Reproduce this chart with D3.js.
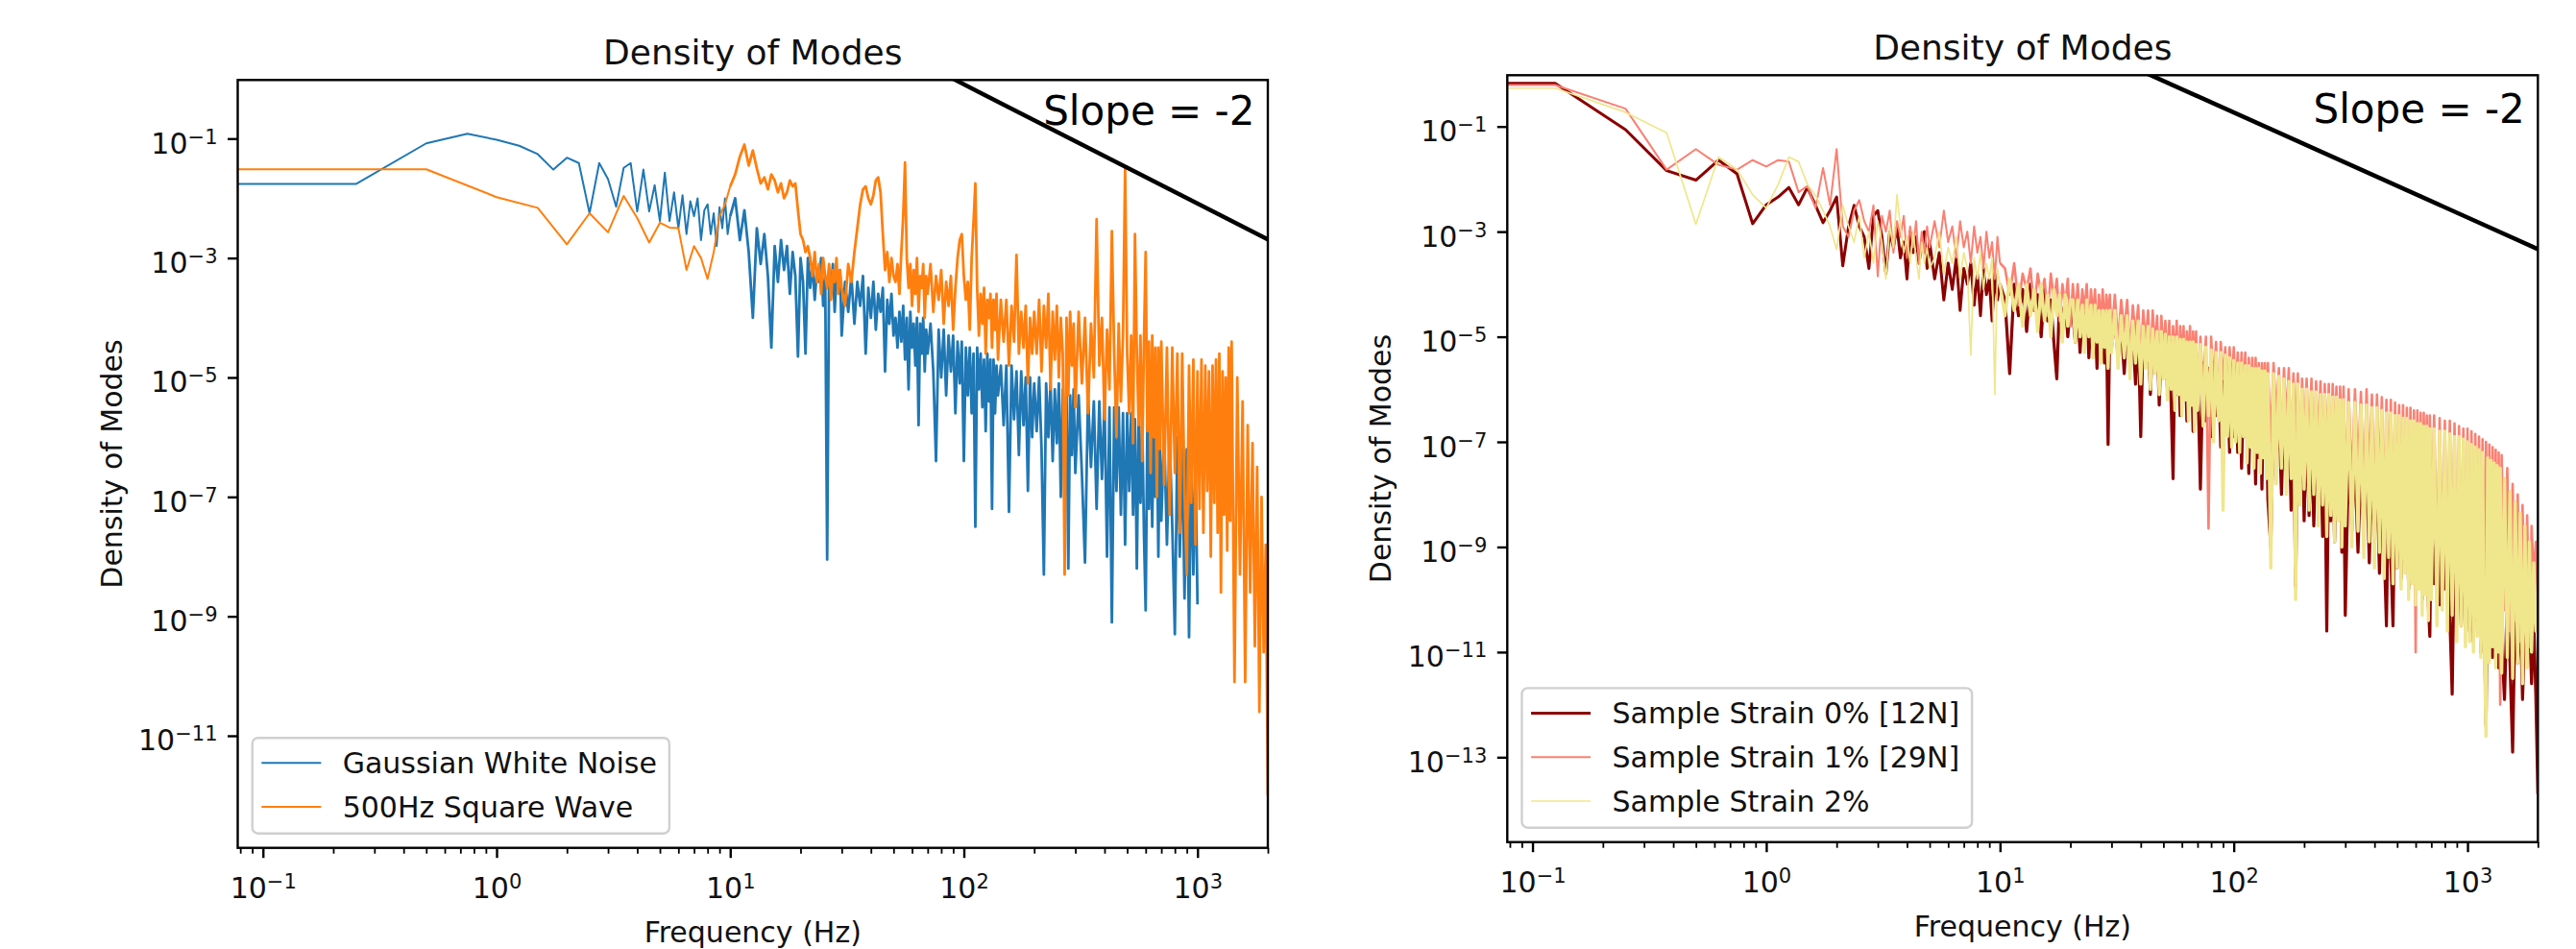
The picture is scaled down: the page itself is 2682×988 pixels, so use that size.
<!DOCTYPE html>
<html>
<head>
<meta charset="utf-8">
<script src="https://cdn.jsdelivr.net/npm/d3@7"></script>
<style>
  body { margin: 0; background: #fff; }
  text { font-family: "DejaVu Sans", sans-serif; }
</style>
</head>
<body>
<svg id="chart" width="2682" height="988"></svg>
<script>
// Frequency grids (Hz). Low part differs per panel, high part is shared
const freqLowL = [0,0.25,0.5,0.75,1,1.25,1.5,1.75,2,2.25,2.5,2.75,3,3.25,3.5,3.75,4,4.25,4.5,4.75,5,
  5.25,5.5,5.75,6,6.25,6.5,6.75,7,7.25,7.5,7.75,8,8.25,8.5,8.75,9,9.25,9.5,9.75,10];
const freqLowR = [0,0.125,0.25,0.375,0.5,0.625,0.75,0.875,1,1.125,1.25,1.375,1.5,1.625,1.75,1.875,2,
  2.125,2.25,2.375,2.5,2.625,2.75,2.875,3,3.125,3.25,3.375,3.5,3.625,3.75,3.875,4,4.125,4.25,4.375,4.5,
  4.625,4.75,4.875,5,
  5.25,5.5,5.75,6,6.25,6.5,6.75,7,7.25,7.5,7.75,8,8.25,8.5,8.75,9,9.25,9.5,9.75,10];
const freqHigh = [
  10.5,11,11.5,12,12.5,13,13.5,14,14.5,15,15.5,16,16.5,17,17.5,18,18.5,19,19.5,20,
  20.5,21,21.5,22,22.5,23,23.5,24,24.5,25,25.5,26,26.5,27,27.5,28,28.5,29,29.5,30,
  31,32,33,34,35,36,37,38,39,40,41,42,43,44,45,46,47,48,49,50,
  51,52,53,54,55,56,57,58,59,60,61,62,63,64,65,66,67,68,69,70,
  72,74,76,78,80,82,84,86,88,90,92,94,96,98,100,
  102,104,106,108,110,112,114,116,118,120,122,124,126,128,130,132,134,136,138,140,
  144,148,152,156,160,164,168,172,176,180,184,188,192,196,200,
  205,210,215,220,225,230,235,240,245,250,255,260,265,270,275,280,285,290,295,300,
  310,320,330,340,350,360,370,380,390,400,410,420,430,440,450,460,470,480,490,500,
  510,520,530,540,550,560,570,580,590,600,610,620,630,640,650,660,670,680,690,700,
  720,740,760,780,800,820,840,860,880,900,920,940,960,980,1000,
  1020,1040,1060,1080,1100,1120,1140,1160,1180,1200,1220,1240,1260,1280,1300,1320,1340,1360,1380,1400,
  1440,1480,1520,1560,1600,1640,1680,1720,1760,1800,1840,1880,1920,1960,2000];

// log10 of density of modes (null = no sample at that frequency)
const noiseExp = [
  -1.76,-1.76,-1.08,-0.92,-1.02,-1.12,-1.26,-1.52,-1.32,-1.41,-2.25,-1.41,-1.68,-2.14,-1.49,-1.41,-2.22,
  -1.52,-2.22,-1.78,-2.38,-1.57,-2.38,-1.9,-2.5,-1.95,-2.6,-2.05,-2.3,-2.0,-2.7,-2.2,-2.1,-2.6,-2.25,-2.8,
  -2.15,-2.5,-2.0,-2.6,-2.3,
  -2.0,-2.7,-2.2,-2.9,-4.0,-2.5,-3.1,-2.6,-3.3,-4.5,-2.8,-3.4,-2.7,-3.2,-2.8,-3.6,-2.9,-3.3,-4.65,-3.0,
  -3.4,-4.6,-3.0,-3.5,-3.1,-3.7,-3.2,-3.4,-3.0,-3.8,-3.3,-8.05,-3.2,-3.6,-3.1,-3.9,-3.3,-3.5,-3.2,-4.3,
  -3.4,-3.9,-3.3,-4.1,-3.4,-3.8,-3.3,-4.6,-3.5,-4.0,-3.4,-4.2,-3.6,-3.9,-3.5,-4.9,-3.7,-4.1,-3.6,-4.3,
  -4.0,-4.5,-3.9,-4.4,-3.8,-4.7,-4.0,-5.2,-3.9,-4.5,-4.1,-4.8,-4.0,-5.8,-4.1,-4.6,-4.0,-4.9,-4.2,-4.6,
  -4.1,-4.9,-6.4,-4.2,-5.0,-4.2,-5.3,-4.3,-4.9,-4.3,-5.6,-4.4,-5.1,-4.4,-6.4,
  -4.5,-5.3,-4.5,-5.6,-4.6,-7.5,-4.5,-5.2,-4.6,-5.5,-4.7,-5.9,-4.6,-5.4,-4.7,-7.2,-4.7,-5.6,-4.8,-5.3,
  -4.8,-5.8,-4.8,-7.25,-4.8,-5.7,-4.9,-6.3,-4.9,-5.8,-5.0,-6.9,-5.0,-6.0,-5.1,
  -5.9,-5.0,-6.2,-8.3,-5.1,-6.0,-5.1,-6.4,-5.2,-6.1,-5.1,-7.0,-5.2,-6.2,-5.2,-8.2,-5.3,-6.3,-5.2,-6.6,
  -5.3,-6.6,-8.1,-5.3,-6.5,-5.4,-7.2,-5.4,-6.7,-5.4,-8.0,-5.5,-9.1,-5.5,-6.9,-5.5,-7.3,-5.6,-7.8,-5.6,
  -6.9,-5.6,-7.3,-5.7,-8.2,-5.7,-7.1,-5.7,-7.6,-8.9,-5.8,-7.2,-5.7,-7.5,-5.8,-7.0,-5.8,-8.0,-5.9,-7.4,
  -5.9,-7.8,-6.0,-7.5,-9.3,-6.0,-8.0,-6.1,-8.7,-6.2,-9.35,-6.3,-8.3,-6.4,-8.8,
  null,null,null,null,null,null,null,null,null,null,null,null,null,null,null,null,null,null,null,null,
  null,null,null,null,null,null,null,null,null,null,null,null,null,null,null];
const squareExp = [
  -1.515,null,-1.515,null,-1.98,null,-2.16,null,-2.77,null,-2.25,null,-2.57,null,-1.96,null,-2.33,null,
  -2.74,null,-2.41,null,-2.49,null,-2.5,null,-3.2,null,-2.8,null,-3.0,null,-3.35,null,-2.9,null,-2.3,null,
  -2.1,null,-1.8,
  -1.6,-1.3,-1.1,-1.45,-1.2,-1.5,-1.75,-1.65,-1.85,-1.6,-1.7,-1.9,-1.75,-2.0,-1.9,-1.7,-1.8,-1.75,-2.2,-2.6,
  -2.7,-2.9,-2.8,-3.0,-3.3,-2.9,-3.4,-3.1,-3.6,-3.0,-3.3,-3.5,-3.1,-3.7,-3.2,-3.4,-3.0,-3.6,-3.2,-3.5,
  -3.8,-3.1,-3.4,-2.9,-2.5,-2.1,-1.85,-1.8,-2.0,-2.1,-1.95,-1.7,-1.65,-1.9,-2.6,-3.2,-2.9,-3.4,-3.0,-3.3,
  -3.4,-3.1,-3.6,-2.9,-2.3,-1.4,-3.0,-3.5,-3.1,-3.8,-3.2,-3.6,-3.0,-3.9,-3.3,-3.5,-3.1,-4.0,-3.3,-3.6,
  -3.1,-3.9,-3.3,-3.7,-3.2,-4.1,-3.4,-3.8,-3.3,-4.2,-3.5,-3.0,-2.7,-2.6,-3.3,
  -3.7,-3.4,-4.2,-3.0,-2.4,-1.75,-3.5,-4.3,-3.6,-4.1,-3.5,-4.6,-3.7,-4.0,-3.6,-4.5,-3.7,-4.2,-3.6,-4.7,
  -3.7,-4.4,-3.7,-4.8,-3.8,-4.4,-2.95,-4.6,-3.9,-4.5,-3.8,-5.1,-4.0,-4.6,-3.9,
  -4.6,-3.7,-4.9,-3.8,-4.5,-3.6,-5.2,-3.9,-4.7,-3.8,-5.0,-4.0,-4.6,-8.3,-4.0,-5.3,-3.9,-4.8,-4.1,-5.5,
  -3.9,-5.1,-4.0,-5.6,-4.1,-5.0,-2.35,-4.8,-4.0,-5.7,-4.2,-5.2,-2.55,-4.6,-6.0,-4.1,-5.4,-4.3,-1.5,-4.6,
  -5.6,-4.3,-6.1,-2.6,-4.6,-5.8,-4.3,-6.4,-4.4,-2.9,-5.9,-4.4,-6.6,-4.3,-6.0,-4.5,-7.0,-4.5,-6.2,-4.4,
  -6.8,-4.5,-7.3,-4.5,-6.6,-4.6,-7.6,-4.6,-6.9,-8.3,-4.8,-7.1,-4.7,-7.8,-4.9,
  -7.2,-4.7,-7.6,-4.8,-6.9,-4.9,-8.0,-4.8,-7.1,-4.7,-7.6,-4.6,-8.6,-4.9,-7.3,-5.0,-7.9,-4.5,-7.4,-4.4,
  -10.1,-5.0,-8.3,-5.4,-10.1,-5.8,-8.6,-6.1,-9.5,-6.5,-10.6,-7.0,-9.6,-7.8,-12.0];

const strain0Exp = [
  -0.18,-0.18,-1.06,-1.84,-2.02,-1.64,-1.90,-2.85,-2.49,-2.34,-2.16,-2.49,-2.16,-2.5,-2.83,-2.6,-2.34,
  -3.65,-2.9,-2.5,-2.9,-3.1,-3.7,-2.7,-2.6,-3.1,-3.8,-3.0,-3.3,-2.9,-3.5,-3.2,-3.9,-3.0,-3.4,-3.1,-3.6,
  -3.3,-3.0,-3.7,-3.2,
  -3.9,-3.4,-4.3,-3.6,-4.1,-3.5,-4.5,-3.7,-4.0,-3.6,-4.4,-3.8,-4.6,-3.7,-4.2,-3.9,-4.7,-3.8,-4.3,-4.0,
  -4.3,-5.7,-4.0,-4.6,-4.1,-4.9,-4.0,-4.5,-4.2,-5.0,-4.1,-4.7,-4.3,-5.1,-5.8,-4.2,-4.8,-4.3,-5.0,-4.4,
  -4.6,-5.1,-4.4,-5.3,-4.5,-4.9,-4.4,-5.4,-4.6,-5.0,-4.5,-5.6,-4.6,-5.1,-4.7,-5.5,-4.6,-7.05,-4.7,-5.2,
  -4.7,-5.4,-4.8,-5.7,-4.7,-5.3,-4.9,-5.9,-4.8,-6.9,-4.9,-5.5,-4.9,-6.1,-5.0,-5.6,-5.0,-6.3,-5.1,-5.7,
  -5.2,-6.0,-5.1,-6.3,-7.7,-5.3,-6.1,-5.2,-6.5,-5.4,-6.0,-5.3,-6.6,-5.4,-6.2,-5.5,-6.8,-5.4,-6.3,-5.6,
  -7.9,-5.5,-6.6,-5.6,-6.9,-5.6,-6.5,-5.7,-7.1,-5.7,-6.7,-5.8,-7.2,-5.8,-6.9,
  -6.0,-7.2,-5.9,-7.5,-6.1,-6.9,-6.0,-7.6,-6.1,-7.0,-6.2,-7.8,-6.1,-7.3,-6.3,-7.9,-6.2,-7.2,-6.4,-8.1,
  -9.0,-6.3,-7.4,-6.4,-8.0,-6.4,-7.6,-6.5,-8.3,-6.6,-9.75,-6.6,-7.8,-6.7,-8.5,
  -6.8,-8.4,-6.9,-8.6,-7.0,-8.1,-6.9,-8.8,-7.0,-10.6,-7.1,-8.5,-7.0,-8.9,-7.2,-8.3,-7.1,-9.1,-7.3,-10.3,
  -7.2,-8.7,-7.3,-9.1,-7.4,-8.7,-7.4,-9.3,-7.5,-8.9,-7.6,-9.5,-7.6,-9.0,-10.5,-7.7,-9.2,-10.5,-7.8,-9.4,
  -7.9,-9.6,-8.0,-9.3,-8.1,-9.8,-8.0,-9.4,-8.2,-9.9,-8.2,-9.5,-8.3,-10.0,-8.3,-9.6,-8.4,-10.1,-10.7,-8.4,
  -9.7,-8.5,-10.1,-8.6,-9.8,-8.7,-10.3,-11.8,-8.8,-10.1,-8.9,-10.5,-9.0,-10.2,-9.1,
  -10.6,-9.2,-10.8,-9.3,-10.4,-9.3,-11.0,-9.4,-10.5,-12.4,-9.5,-10.9,-9.6,-11.1,-9.6,-10.7,-9.7,-11.3,-9.8,-10.8,
  -11.9,-9.9,-11.2,-12.9,-10.1,-11.2,-10.2,-11.9,-10.4,-10.9,-10.3,-11.6,-10.4,-11.8,-13.7];
const strain1Exp = [
  -0.21,-0.21,-0.66,-1.82,-1.43,-1.73,-1.82,-1.64,-1.76,-1.64,-1.67,-2.25,-2.13,-2.55,-1.79,-2.5,-1.43,
  -2.9,-3.1,-2.6,-2.4,-2.8,-3.0,-2.5,-3.85,-2.7,-3.0,-2.6,-3.4,-2.8,-3.1,-2.7,-3.5,-2.9,-3.3,-2.8,-3.6,
  -3.0,-3.4,-2.9,-3.3,
  -2.8,-3.3,-2.6,-3.2,-2.9,-3.5,-2.8,-3.3,-3.0,-3.6,-2.9,-3.4,-3.1,-3.7,-3.0,-3.5,-3.2,-3.9,-3.1,-3.6,
  -3.7,-4.2,-3.6,-4.4,-3.8,-4.1,-3.7,-4.5,-3.8,-4.2,-3.9,-4.6,-3.8,-4.3,-3.9,-4.7,-4.0,-4.4,-3.9,-4.8,
  -4.0,-4.6,-4.0,-4.8,-4.1,-4.5,-4.0,-4.9,-4.1,-4.6,-4.1,-5.0,-4.2,-4.7,-4.1,-4.9,-4.2,-4.6,-4.2,-5.0,
  -4.2,-5.1,-4.3,-4.9,-4.3,-5.3,-4.4,-5.0,-4.4,-5.5,-4.5,-5.1,-4.5,-5.6,-4.5,-5.2,-4.6,-5.8,-4.6,-5.3,
  -4.7,-5.5,-4.7,-5.8,-4.8,-5.4,-4.7,-5.9,-4.8,-5.5,-4.8,-6.0,-4.9,-5.6,-4.8,-6.1,-4.9,-5.7,-4.9,-6.2,
  -5.0,-6.0,-5.0,-8.65,-5.0,-5.9,-5.1,-6.3,-5.1,-5.8,-5.2,-6.4,-5.2,-6.0,-5.2,
  -6.1,-5.3,-6.4,-5.3,-6.2,-5.3,-6.6,-5.4,-6.3,-5.4,-6.7,-5.4,-6.4,-5.5,-6.8,-5.5,-6.5,-5.5,-6.9,-5.5,
  -7.0,-5.5,-6.5,-5.6,-7.2,-5.6,-6.6,-5.6,-7.4,-5.7,-6.8,-5.7,-7.6,-5.8,-6.9,
  -5.8,-7.1,-5.8,-7.4,-5.85,-7.0,-5.85,-7.5,-5.9,-7.2,-5.9,-7.6,-5.9,-7.1,-5.95,-7.7,-5.95,-7.3,-5.95,-7.8,
  -6.0,-7.8,-6.0,-7.5,-6.05,-8.0,-6.0,-7.6,-6.1,-8.2,-6.1,-7.8,-6.15,-8.4,-6.2,-7.9,-6.2,-8.6,-6.25,-8.1,
  -6.3,-8.4,-6.3,-8.8,-6.35,-8.5,-6.35,-8.9,-6.4,-11.0,-6.4,-8.6,-6.45,-9.0,-6.45,-8.7,-6.5,-9.1,-6.5,-8.8,
  -6.5,-9.3,-6.55,-9.0,-6.6,-9.5,-6.6,-9.2,-6.65,-9.7,-6.7,-9.4,-6.75,-9.9,-6.75,
  -9.6,-6.8,-9.8,-6.85,-10.0,-6.9,-9.7,-6.95,-10.1,-7.0,-9.8,-7.05,-10.3,-7.1,-9.9,-7.15,-10.4,-7.2,-12.0,-7.25,
  -10.2,-7.5,-10.6,-7.8,-10.4,-8.0,-10.8,-8.2,-10.5,-8.4,-10.9,-8.6,-9.6,-8.9,-10.3];
const strain2Exp = [
  -0.27,-0.27,-0.73,-1.12,-2.86,-1.58,-1.82,-2.3,-2.55,-2.1,-1.58,-1.67,-2.1,-2.31,-2.6,-2.9,-3.34,
  -2.5,-2.9,-3.2,-2.7,-3.5,-3.0,-3.6,-2.8,-3.2,-3.9,-2.9,-3.3,-2.3,-2.9,-3.4,-3.1,-3.6,-3.0,-3.5,-3.9,
  -3.2,-3.6,-3.3,-3.7,
  -3.5,-3.0,-3.8,-3.3,-3.6,-3.1,-3.9,-3.4,-3.7,-5.35,-3.5,-3.9,-3.4,-4.1,-3.6,-3.9,-3.5,-6.1,-3.7,-4.0,
  -4.6,-3.9,-4.5,-4.0,-4.8,-4.0,-4.6,-4.1,-4.9,-4.0,-4.7,-4.2,-5.0,-4.1,-4.6,-4.2,-5.1,-4.2,-4.8,-4.3,
  -4.3,-5.1,-4.3,-5.0,-4.4,-5.3,-4.3,-5.0,-4.4,-5.4,-4.4,-5.1,-4.5,-5.5,-4.5,-5.2,-4.5,-5.6,-4.5,-5.3,
  -4.5,-5.6,-4.6,-5.4,-4.6,-5.8,-4.7,-5.5,-4.7,-5.9,-4.8,-5.6,-4.8,-6.0,-4.85,-5.7,-4.9,-6.1,-4.9,-5.8,
  -4.95,-6.2,-5.0,-6.0,-5.0,-6.4,-5.0,-6.1,-5.05,-6.5,-5.05,-6.2,-5.1,-6.6,-5.1,-6.3,-5.1,-6.8,-5.15,-6.4,
  -5.15,-6.7,-5.2,-6.5,-5.25,-7.0,-5.3,-6.6,-5.3,-8.3,-5.35,-6.9,-5.4,-7.1,-5.45,
  -7.0,-5.5,-7.2,-5.5,-6.9,-5.55,-7.4,-5.55,-7.1,-5.6,-7.5,-5.6,-7.2,-5.6,-7.6,-5.65,-7.3,-5.65,-7.7,-5.7,
  -9.4,-5.7,-7.8,-5.75,-7.5,-5.8,-8.0,-5.85,-7.7,-5.9,-10.0,-5.9,-8.2,-6.0,-7.9,
  -6.0,-8.3,-6.05,-8.0,-6.05,-8.6,-6.1,-8.2,-6.1,-8.8,-6.1,-8.4,-6.15,-8.9,-6.15,-8.5,-6.2,-9.0,-6.2,-8.6,
  -6.25,-9.0,-6.25,-8.7,-6.3,-9.2,-6.3,-8.9,-6.35,-9.4,-6.35,-9.1,-6.4,-9.6,-6.45,-9.2,-6.45,-9.7,-6.5,-9.4,
  -6.5,-9.8,-6.55,-9.5,-6.55,-10.0,-6.6,-9.7,-6.6,-10.1,-6.65,-9.8,-6.65,-10.3,-6.7,-9.9,-6.7,-10.4,-6.75,-10.0,
  -6.75,-10.5,-6.8,-10.2,-6.8,-10.6,-6.85,-10.3,-6.9,-10.8,-6.9,-10.5,-6.95,-10.9,-7.0,
  -10.8,-7.05,-11.0,-7.1,-10.7,-7.15,-11.1,-7.2,-10.9,-12.6,-7.3,-11.2,-7.35,-10.9,-7.4,-11.3,-7.45,-11.0,-7.5,-11.4,
  -7.7,-11.1,-7.95,-11.5,-8.15,-11.2,-8.35,-11.6,-8.6,-11.3,-8.9,-11.0,-9.3,-10.6,-10.3];

// slope = -2 reference lines, two end points [Hz, density]
const slopeLeft = [[90, 1.0], [2000, 2.05e-3]];
const slopeRight = [[40, 1.15], [2000, 4.65e-4]];

// ticks
const xMajor = [0.1, 1, 10, 100, 1000];
const yExpLeft = [-1, -3, -5, -7, -9, -11];
const yExpRight = [-1, -3, -5, -7, -9, -11, -13];

const legendLeft = ["Gaussian White Noise", "500Hz Square Wave"];
const legendRight = ["Sample Strain 0% [12N]", "Sample Strain 1% [29N]", "Sample Strain 2%"];

const svg = d3.select("#chart");
const xDomain = [0.078, 2000];
const denseFrom = 10;   // above this the spectra are a solid band of samples

const panels = [
  {
    id: "L", left: 247.5, top: 83.3, width: 1072.5, height: 799.4,
    yDomain: [1.327e-13, 0.957], yExp: yExpLeft,
    freq: freqLowL.concat(freqHigh),
    series: [
      { name: legendLeft[0], exp: noiseExp, color: "#1f77b4", width: 2, denseWidth: 2.8 },
      { name: legendLeft[1], exp: squareExp, color: "#ff7f0e", width: 2, denseWidth: 2.8 }
    ],
    slope: slopeLeft, slopeY: 46.3
  },
  {
    id: "R", left: 1569.3, top: 78.3, width: 1073, height: 798.4,
    yDomain: [2.427e-15, 0.946], yExp: yExpRight,
    freq: freqLowR.concat(freqHigh),
    series: [
      { name: legendRight[0], exp: strain0Exp, color: "#8b0000", width: 3, denseWidth: 3.2 },
      { name: legendRight[1], exp: strain1Exp, color: "#fa8072", width: 2, denseWidth: 2.6 },
      { name: legendRight[2], exp: strain2Exp, color: "#f0e68c", width: 1.7, denseWidth: 3.4 }
    ],
    slope: slopeRight, slopeY: 50
  }
];

// "10" with a raised exponent, like matplotlib's mathtext labels
function powLabel(sel, exp) {
  sel.append("tspan").text("10");
  sel.append("tspan").attr("font-size", 21).attr("dy", -10)
    .text(exp < 0 ? "\u2212" + (-exp) : String(exp));
}

function drawPanel(p) {
  const g = svg.append("g").attr("transform", `translate(${p.left},${p.top})`);
  const x = d3.scaleLog().domain(xDomain).range([0, p.width]);
  const y = d3.scaleLog().domain(p.yDomain).range([p.height, 0]);

  g.append("clipPath").attr("id", "clip" + p.id)
    .append("rect").attr("width", p.width).attr("height", p.height);

  // 0 Hz has no place on a log axis: it is pinned to the left edge
  const line = d3.line()
    .x(d => x(Math.max(d.f, xDomain[0])))
    .y(d => y(Math.pow(10, d.e)));

  p.series.forEach(s => {
    const pts = p.freq.map((f, i) => ({ f: f, e: s.exp[i] })).filter(d => d.e != null);
    // sparse low-frequency part and dense band share the 10 Hz sample
    const parts = [
      { data: pts.filter(d => d.f <= denseFrom), w: s.width },
      { data: pts.filter(d => d.f >= denseFrom), w: s.denseWidth }
    ];
    parts.forEach(part => {
      g.append("path").datum(part.data)
        .attr("clip-path", `url(#clip${p.id})`)
        .attr("fill", "none")
        .attr("stroke", s.color)
        .attr("stroke-width", part.w)
        .attr("stroke-linejoin", "round")
        .attr("d", line);
    });
  });

  // slope reference
  g.append("path").datum(p.slope)
    .attr("clip-path", `url(#clip${p.id})`)
    .attr("fill", "none").attr("stroke", "#000").attr("stroke-width", 4.5)
    .attr("d", d3.line().x(d => x(d[0])).y(d => y(d[1])));

  g.append("text")
    .attr("x", p.width - 13.5).attr("y", p.slopeY)
    .attr("text-anchor", "end")
    .attr("font-family", "'Liberation Sans', Arial, sans-serif")
    .attr("font-size", 42).attr("fill", "#000")
    .text("Slope = -2");

  // x axis: major + minor ticks
  const xAxis = g.append("g").attr("transform", `translate(0,${p.height})`)
    .call(d3.axisBottom(x).tickValues(xMajor).tickSize(10.5).tickFormat(""));
  xAxis.select(".domain").remove();
  xAxis.selectAll(".tick line").attr("stroke", "#000").attr("stroke-width", 2.4);
  xAxis.selectAll(".tick").append("text")
    .attr("y", 52.8).attr("fill", "#111").attr("font-size", 30)
    .attr("font-family", "'DejaVu Sans', sans-serif")
    .attr("text-anchor", "middle")
    .each(function (d) { powLabel(d3.select(this), Math.round(Math.log10(d))); });

  const minor = x.ticks().filter(t => Math.abs(Math.log10(t) - Math.round(Math.log10(t))) > 1e-6);
  const xMinor = g.append("g").attr("transform", `translate(0,${p.height})`)
    .call(d3.axisBottom(x).tickValues(minor).tickSize(6).tickFormat(""));
  xMinor.select(".domain").remove();
  xMinor.selectAll(".tick line").attr("stroke", "#000").attr("stroke-width", 1.8);

  // y axis
  const yAxis = g.append("g")
    .call(d3.axisLeft(y).tickValues(p.yExp.map(e => Math.pow(10, e))).tickSize(10.5).tickFormat(""));
  yAxis.select(".domain").remove();
  yAxis.selectAll(".tick line").attr("stroke", "#000").attr("stroke-width", 2.4);
  yAxis.selectAll(".tick").append("text")
    .attr("x", -21).attr("y", 15).attr("fill", "#111").attr("font-size", 30)
    .attr("font-family", "'DejaVu Sans', sans-serif")
    .attr("text-anchor", "end")
    .each(function (d) { powLabel(d3.select(this), Math.round(Math.log10(d))); });

  // frame
  g.append("rect")
    .attr("width", p.width).attr("height", p.height)
    .attr("fill", "none").attr("stroke", "#000").attr("stroke-width", 2.4);

  // titles and labels
  g.append("text")
    .attr("x", p.width / 2).attr("y", -16)
    .attr("text-anchor", "middle").attr("font-size", 36).attr("fill", "#111")
    .text("Density of Modes");
  g.append("text")
    .attr("x", p.width / 2).attr("y", p.height + 98.8)
    .attr("text-anchor", "middle").attr("font-size", 30).attr("fill", "#111")
    .text("Frequency (Hz)");
  g.append("text")
    .attr("transform", `translate(-121,${p.height / 2}) rotate(-90)`)
    .attr("text-anchor", "middle").attr("font-size", 30).attr("fill", "#111")
    .text("Density of Modes");

  // legend, lower left
  const n = p.series.length;
  const boxH = 26 + (n - 1) * 45.8 + 27.7;
  const lg = g.append("g").attr("transform", `translate(15.2,${p.height - 15 - boxH})`);
  const box = lg.append("rect")
    .attr("height", boxH).attr("rx", 6).attr("ry", 6)
    .attr("fill", "#fff").attr("fill-opacity", 0.8)
    .attr("stroke", "#d0d0d0").attr("stroke-width", 2.4);
  p.series.forEach((s, i) => {
    const cy = 26 + i * 45.8;
    lg.append("line")
      .attr("x1", 9.6).attr("x2", 71.6).attr("y1", cy).attr("y2", cy)
      .attr("stroke", s.color).attr("stroke-width", s.width);
    lg.append("text")
      .attr("x", 94).attr("y", cy + 11)
      .attr("font-size", 30).attr("fill", "#111")
      .text(s.name);
  });
  const maxW = d3.max(lg.selectAll("text").nodes(), nd => nd.getComputedTextLength());
  box.attr("width", 94 + maxW + 13);
}

panels.forEach(drawPanel);
</script>
</body>
</html>
